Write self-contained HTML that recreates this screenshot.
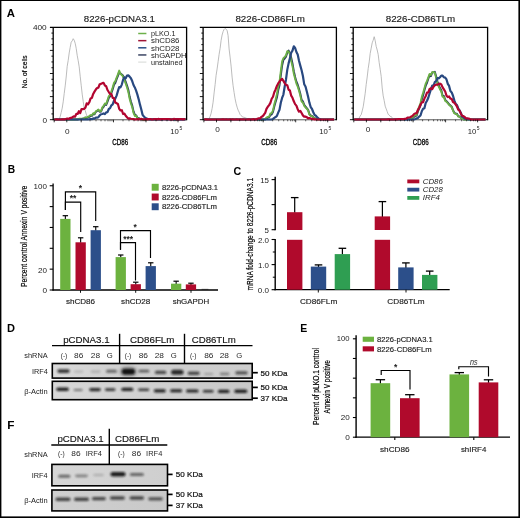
<!DOCTYPE html>
<html><head><meta charset="utf-8"><title>Figure</title><style>html,body{margin:0;padding:0;background:#fff}svg{display:block}</style></head><body>
<svg width="520" height="518" viewBox="0 0 520 518" font-family='"Liberation Sans", Arial, Helvetica, sans-serif'>
<defs><filter id="b1" x="-30%" y="-100%" width="160%" height="300%"><feGaussianBlur stdDeviation="1.3 0.85"/></filter><linearGradient id="gD1"><stop offset="0" stop-color="#dadada"/><stop offset="0.35" stop-color="#cfcfcf"/><stop offset="1" stop-color="#cdcdcd"/></linearGradient><linearGradient id="gD2"><stop offset="0" stop-color="#d8d8d8"/><stop offset="1" stop-color="#c8c8c8"/></linearGradient><linearGradient id="gF1"><stop offset="0" stop-color="#d6d6d6"/><stop offset="1" stop-color="#cfcfcf"/></linearGradient><linearGradient id="gF2"><stop offset="0" stop-color="#cfcfcf"/><stop offset="1" stop-color="#c9c9c9"/></linearGradient></defs>
<rect x="0.00" y="0.00" width="520.00" height="518.00" fill="#fff"/>
<rect x="0.00" y="0.00" width="1.40" height="518.00" fill="#000"/>
<rect x="0.00" y="0.00" width="520.00" height="1.00" fill="#000"/>
<rect x="518.40" y="0.00" width="1.60" height="518.00" fill="#000"/>
<rect x="0.00" y="516.40" width="520.00" height="1.60" fill="#000"/>
<text x="6.80" y="17.00" font-size="10.5" textLength="8.20" lengthAdjust="spacingAndGlyphs" font-weight="bold" fill="#000">A</text>
<line x1="53.20" y1="119.70" x2="186.60" y2="119.70" stroke="#000" stroke-width="1.0"/>
<path d="M54.20 119.50 L55.20 119.50 L56.20 119.50 L57.20 119.44 L58.20 119.50 L59.20 119.50 L60.20 116.52 L61.20 112.54 L62.20 108.21 L63.20 101.86 L64.20 93.66 L65.20 85.93 L66.20 77.00 L67.20 66.29 L68.20 60.41 L69.20 52.95 L70.20 47.34 L71.20 42.16 L72.20 40.92 L73.20 38.70 L74.20 40.24 L75.20 43.29 L76.20 48.33 L77.20 55.30 L78.20 60.69 L79.20 66.88 L80.20 76.24 L81.20 85.21 L82.20 94.10 L83.20 101.34 L84.20 108.26 L85.20 110.45 L86.20 113.94 L87.20 116.60 L88.20 116.95 L89.20 118.03 L90.20 118.88 L91.20 119.11 L92.20 119.34 L93.20 119.48 L94.20 119.36 L95.20 119.45 L96.20 119.50 L97.20 119.48 L98.20 119.50 L99.20 119.50 L100.20 119.50 L101.20 119.50 L102.20 119.50 L103.20 119.50 L104.20 119.50 L105.20 119.50 L106.20 119.50 L107.20 119.50 L108.20 119.50 L109.20 119.50 L110.20 119.50 L111.20 119.50 L112.20 119.50 L113.20 119.50 L114.20 119.50 L115.20 119.50 L116.20 119.50 L117.20 119.50 L118.20 119.50 L119.20 119.50 L120.20 119.50 L121.20 119.50 L122.20 119.50 L123.20 119.50 L124.20 119.50 L125.20 119.50 L126.20 119.50 L127.20 119.50 L128.20 119.48 L129.20 119.50 L130.20 119.50 L131.20 119.50 L132.20 119.49 L133.20 119.50 L134.20 119.50 L135.20 119.50 L136.20 119.50 L137.20 119.50 L138.20 119.50 L139.20 119.50 L140.20 119.50 L141.20 119.50 L142.20 119.50 L143.20 119.49 L144.20 119.50 L145.20 119.50 L146.20 119.50 L147.20 119.50 L148.20 119.50 L149.20 119.50 L150.20 119.50 L151.20 119.50 L152.20 119.50 L153.20 119.50 L154.20 119.50 L155.20 119.48 L156.20 119.48 L157.20 119.50 L158.20 119.49 L159.20 119.50 L160.20 119.50 L161.20 119.50 L162.20 119.50 L163.20 119.50 L164.20 119.50 L165.20 119.50 L166.20 119.50 L167.20 119.50 L168.20 119.50 L169.20 119.50 L170.20 119.50 L171.20 119.50 L172.20 119.50 L173.20 119.50 L174.20 119.50 L175.20 119.50 L176.20 119.50 L177.20 119.50 L178.20 119.50 L179.20 119.50 L180.20 119.50 L181.20 119.50 L182.20 119.50 L183.20 119.50 L184.20 119.50 L185.20 119.50" fill="none" stroke="#ababab" stroke-width="0.8" stroke-linejoin="round"/>
<path d="M54.20 119.50 L55.50 119.50 L56.80 119.50 L58.10 119.50 L59.40 119.50 L60.70 119.50 L62.00 119.50 L63.30 119.50 L64.60 119.50 L65.90 119.50 L67.20 119.50 L68.50 119.50 L69.80 119.50 L71.10 119.50 L72.40 119.50 L73.70 119.50 L75.00 119.50 L76.30 119.39 L77.60 119.50 L78.90 119.05 L80.20 118.94 L81.50 118.93 L82.80 118.87 L84.10 118.36 L85.40 117.70 L86.70 118.00 L88.00 117.10 L89.30 116.85 L90.60 115.85 L91.90 115.84 L93.20 113.83 L94.50 114.19 L95.80 111.87 L97.10 111.02 L98.40 110.05 L99.70 111.72 L101.00 111.59 L102.30 108.36 L103.60 106.79 L104.90 104.41 L106.20 104.93 L107.50 101.68 L108.80 97.87 L110.10 96.35 L111.40 92.94 L112.70 89.15 L114.00 84.68 L115.30 82.86 L116.60 79.13 L117.90 75.86 L119.20 72.08 L120.50 73.61 L121.80 74.53 L123.10 75.79 L124.40 79.00 L125.70 81.71 L127.00 85.46 L128.30 89.72 L129.60 96.59 L130.90 101.49 L132.20 105.57 L133.50 111.36 L134.80 114.61 L136.10 115.28 L137.40 117.81 L138.70 118.00 L140.00 119.30 L141.30 119.23 L142.60 119.50 L143.90 119.50 L145.20 119.50 L146.50 119.50 L147.80 119.34 L149.10 119.50 L150.40 119.37 L151.70 119.50 L153.00 119.48 L154.30 119.35 L155.60 119.50 L156.90 119.36 L158.20 119.44 L159.50 119.36 L160.80 119.50 L162.10 119.46 L163.40 119.34 L164.70 119.33 L166.00 119.42 L167.30 119.50 L168.60 119.32 L169.90 119.33 L171.20 119.50 L172.50 119.50 L173.80 119.38 L175.10 119.47 L176.40 119.38 L177.70 119.45 L179.00 119.50 L180.30 119.42 L181.60 119.41 L182.90 119.43 L184.20 119.46 L185.50 119.50" fill="none" stroke="#2c3c5e" stroke-width="2.0" stroke-linejoin="round"/>
<path d="M54.20 119.50 L55.50 119.50 L56.80 119.50 L58.10 119.50 L59.40 119.49 L60.70 119.50 L62.00 119.50 L63.30 119.50 L64.60 119.50 L65.90 119.44 L67.20 119.50 L68.50 119.50 L69.80 119.41 L71.10 119.50 L72.40 119.50 L73.70 119.50 L75.00 119.21 L76.30 119.09 L77.60 119.32 L78.90 118.75 L80.20 118.66 L81.50 118.64 L82.80 118.60 L84.10 118.06 L85.40 117.34 L86.70 117.71 L88.00 116.74 L89.30 116.07 L90.60 115.10 L91.90 115.23 L93.20 113.14 L94.50 113.73 L95.80 111.33 L97.10 110.52 L98.40 109.55 L99.70 111.22 L101.00 111.09 L102.30 107.41 L103.60 105.84 L104.90 103.46 L106.20 103.98 L107.50 99.98 L108.80 96.17 L110.10 94.65 L111.40 91.24 L112.70 87.35 L114.00 82.88 L115.30 81.06 L116.60 77.61 L117.90 74.34 L119.20 70.56 L120.50 73.94 L121.80 75.01 L123.10 76.59 L124.40 80.47 L125.70 83.61 L127.00 87.50 L128.30 91.92 L129.60 98.79 L130.90 103.55 L132.20 107.17 L133.50 112.96 L134.80 115.97 L136.10 115.70 L137.40 118.11 L138.70 118.43 L140.00 119.17 L141.30 119.08 L142.60 119.46 L143.90 119.50 L145.20 119.37 L146.50 119.50 L147.80 119.11 L149.10 119.45 L150.40 119.14 L151.70 119.33 L153.00 119.26 L154.30 119.12 L155.60 119.49 L156.90 119.13 L158.20 119.22 L159.50 119.12 L160.80 119.44 L162.10 119.24 L163.40 119.10 L164.70 119.09 L166.00 119.20 L167.30 119.36 L168.60 119.08 L169.90 119.09 L171.20 119.45 L172.50 119.37 L173.80 119.15 L175.10 119.25 L176.40 119.15 L177.70 119.23 L179.00 119.29 L180.30 119.20 L181.60 119.19 L182.90 119.20 L184.20 119.24 L185.50 119.38" fill="none" stroke="#6cb046" stroke-width="1.85" stroke-linejoin="round"/>
<path d="M54.20 119.50 L55.50 119.50 L56.80 119.38 L58.10 119.50 L59.40 119.46 L60.70 119.48 L62.00 119.50 L63.30 119.50 L64.60 119.50 L65.90 119.50 L67.20 119.50 L68.50 119.50 L69.80 119.48 L71.10 119.40 L72.40 119.44 L73.70 119.50 L75.00 119.50 L76.30 119.50 L77.60 119.50 L78.90 119.50 L80.20 119.50 L81.50 119.40 L82.80 119.38 L84.10 119.50 L85.40 119.50 L86.70 119.50 L88.00 119.31 L89.30 119.25 L90.60 119.11 L91.90 119.18 L93.20 118.43 L94.50 118.57 L95.80 117.68 L97.10 117.71 L98.40 117.22 L99.70 115.41 L101.00 114.29 L102.30 113.95 L103.60 113.43 L104.90 114.15 L106.20 112.35 L107.50 112.13 L108.80 108.98 L110.10 108.11 L111.40 105.34 L112.70 104.30 L114.00 100.60 L115.30 98.54 L116.60 95.58 L117.90 91.17 L119.20 87.04 L120.50 87.39 L121.80 84.59 L123.10 79.74 L124.40 77.31 L125.70 78.36 L127.00 75.58 L128.30 75.36 L129.60 76.63 L130.90 78.21 L132.20 81.07 L133.50 85.02 L134.80 87.41 L136.10 90.57 L137.40 94.63 L138.70 99.35 L140.00 104.65 L141.30 109.44 L142.60 114.88 L143.90 116.53 L145.20 117.75 L146.50 118.37 L147.80 119.04 L149.10 119.29 L150.40 119.50 L151.70 119.43 L153.00 119.46 L154.30 119.28 L155.60 119.36 L156.90 119.48 L158.20 119.50 L159.50 119.37 L160.80 119.25 L162.10 119.46 L163.40 119.14 L164.70 119.26 L166.00 119.09 L167.30 119.38 L168.60 119.22 L169.90 119.29 L171.20 119.50 L172.50 119.43 L173.80 119.10 L175.10 119.32 L176.40 119.08 L177.70 119.50 L179.00 119.35 L180.30 119.50 L181.60 119.22 L182.90 119.50 L184.20 119.15 L185.50 119.50" fill="none" stroke="#284880" stroke-width="2.2" stroke-linejoin="round"/>
<path d="M54.20 119.50 L55.50 119.50 L56.80 119.38 L58.10 119.50 L59.40 119.50 L60.70 119.50 L62.00 119.37 L63.30 119.30 L64.60 119.45 L65.90 119.01 L67.20 118.54 L68.50 119.05 L69.80 118.02 L71.10 117.91 L72.40 117.26 L73.70 116.36 L75.00 116.74 L76.30 113.92 L77.60 113.96 L78.90 111.25 L80.20 113.06 L81.50 109.09 L82.80 109.04 L84.10 108.83 L85.40 107.70 L86.70 103.40 L88.00 104.32 L89.30 102.28 L90.60 98.41 L91.90 97.83 L93.20 93.95 L94.50 91.62 L95.80 89.57 L97.10 87.99 L98.40 87.66 L99.70 84.25 L101.00 83.88 L102.30 83.19 L103.60 82.87 L104.90 85.59 L106.20 86.28 L107.50 90.00 L108.80 92.03 L110.10 93.90 L111.40 94.16 L112.70 97.89 L114.00 98.14 L115.30 102.57 L116.60 103.23 L117.90 103.95 L119.20 108.82 L120.50 110.49 L121.80 110.20 L123.10 114.02 L124.40 113.66 L125.70 115.74 L127.00 117.21 L128.30 118.63 L129.60 118.35 L130.90 118.76 L132.20 119.00 L133.50 119.15 L134.80 119.40 L136.10 119.36 L137.40 118.98 L138.70 119.36 L140.00 119.03 L141.30 118.93 L142.60 119.21 L143.90 119.47 L145.20 119.47 L146.50 119.18 L147.80 119.40 L149.10 119.03 L150.40 119.01 L151.70 119.50 L153.00 119.32 L154.30 119.02 L155.60 119.12 L156.90 119.39 L158.20 118.95 L159.50 119.03 L160.80 119.41 L162.10 119.06 L163.40 119.17 L164.70 119.18 L166.00 119.20 L167.30 119.10 L168.60 119.07 L169.90 119.40 L171.20 119.38 L172.50 119.49 L173.80 118.94 L175.10 119.01 L176.40 119.44 L177.70 119.10 L179.00 119.40 L180.30 119.10 L181.60 119.15 L182.90 119.32 L184.20 119.17 L185.50 119.23" fill="none" stroke="#b20530" stroke-width="2.2" stroke-linejoin="round"/>
<path d="M53.20 120.30 V27.30 M49.90 27.30 H186.60 M186.60 26.70 V120.30" fill="none" stroke="#000" stroke-width="1.3"/>
<line x1="51.40" y1="33.08" x2="53.20" y2="33.08" stroke="#000" stroke-width="0.9"/>
<line x1="51.40" y1="38.85" x2="53.20" y2="38.85" stroke="#000" stroke-width="0.9"/>
<line x1="51.40" y1="44.62" x2="53.20" y2="44.62" stroke="#000" stroke-width="0.9"/>
<line x1="49.90" y1="50.40" x2="53.20" y2="50.40" stroke="#000" stroke-width="0.9"/>
<line x1="51.40" y1="56.17" x2="53.20" y2="56.17" stroke="#000" stroke-width="0.9"/>
<line x1="51.40" y1="61.95" x2="53.20" y2="61.95" stroke="#000" stroke-width="0.9"/>
<line x1="51.40" y1="67.73" x2="53.20" y2="67.73" stroke="#000" stroke-width="0.9"/>
<line x1="49.90" y1="73.50" x2="53.20" y2="73.50" stroke="#000" stroke-width="0.9"/>
<line x1="51.40" y1="79.28" x2="53.20" y2="79.28" stroke="#000" stroke-width="0.9"/>
<line x1="51.40" y1="85.05" x2="53.20" y2="85.05" stroke="#000" stroke-width="0.9"/>
<line x1="51.40" y1="90.83" x2="53.20" y2="90.83" stroke="#000" stroke-width="0.9"/>
<line x1="49.90" y1="96.60" x2="53.20" y2="96.60" stroke="#000" stroke-width="0.9"/>
<line x1="51.40" y1="102.38" x2="53.20" y2="102.38" stroke="#000" stroke-width="0.9"/>
<line x1="51.40" y1="108.15" x2="53.20" y2="108.15" stroke="#000" stroke-width="0.9"/>
<line x1="51.40" y1="113.92" x2="53.20" y2="113.92" stroke="#000" stroke-width="0.9"/>
<line x1="49.90" y1="119.70" x2="53.20" y2="119.70" stroke="#000" stroke-width="0.9"/>
<line x1="54.20" y1="119.70" x2="54.20" y2="122.30" stroke="#000" stroke-width="0.8"/>
<line x1="66.80" y1="119.70" x2="66.80" y2="122.30" stroke="#000" stroke-width="0.8"/>
<line x1="81.20" y1="119.70" x2="81.20" y2="122.30" stroke="#000" stroke-width="0.8"/>
<line x1="113.50" y1="119.70" x2="113.50" y2="122.30" stroke="#000" stroke-width="0.8"/>
<line x1="146.00" y1="119.70" x2="146.00" y2="122.30" stroke="#000" stroke-width="0.8"/>
<line x1="178.00" y1="119.70" x2="178.00" y2="122.30" stroke="#000" stroke-width="0.8"/>
<line x1="90.00" y1="119.70" x2="90.00" y2="121.30" stroke="#000" stroke-width="0.6"/>
<line x1="96.00" y1="119.70" x2="96.00" y2="121.30" stroke="#000" stroke-width="0.6"/>
<line x1="101.00" y1="119.70" x2="101.00" y2="121.30" stroke="#000" stroke-width="0.6"/>
<line x1="105.00" y1="119.70" x2="105.00" y2="121.30" stroke="#000" stroke-width="0.6"/>
<line x1="108.00" y1="119.70" x2="108.00" y2="121.30" stroke="#000" stroke-width="0.6"/>
<line x1="110.00" y1="119.70" x2="110.00" y2="121.30" stroke="#000" stroke-width="0.6"/>
<line x1="112.00" y1="119.70" x2="112.00" y2="121.30" stroke="#000" stroke-width="0.6"/>
<line x1="123.00" y1="119.70" x2="123.00" y2="121.30" stroke="#000" stroke-width="0.6"/>
<line x1="129.00" y1="119.70" x2="129.00" y2="121.30" stroke="#000" stroke-width="0.6"/>
<line x1="134.00" y1="119.70" x2="134.00" y2="121.30" stroke="#000" stroke-width="0.6"/>
<line x1="138.00" y1="119.70" x2="138.00" y2="121.30" stroke="#000" stroke-width="0.6"/>
<line x1="141.00" y1="119.70" x2="141.00" y2="121.30" stroke="#000" stroke-width="0.6"/>
<line x1="143.00" y1="119.70" x2="143.00" y2="121.30" stroke="#000" stroke-width="0.6"/>
<line x1="145.00" y1="119.70" x2="145.00" y2="121.30" stroke="#000" stroke-width="0.6"/>
<line x1="156.00" y1="119.70" x2="156.00" y2="121.30" stroke="#000" stroke-width="0.6"/>
<line x1="162.00" y1="119.70" x2="162.00" y2="121.30" stroke="#000" stroke-width="0.6"/>
<line x1="167.00" y1="119.70" x2="167.00" y2="121.30" stroke="#000" stroke-width="0.6"/>
<line x1="171.00" y1="119.70" x2="171.00" y2="121.30" stroke="#000" stroke-width="0.6"/>
<line x1="174.00" y1="119.70" x2="174.00" y2="121.30" stroke="#000" stroke-width="0.6"/>
<line x1="176.00" y1="119.70" x2="176.00" y2="121.30" stroke="#000" stroke-width="0.6"/>
<line x1="203.10" y1="119.70" x2="336.40" y2="119.70" stroke="#000" stroke-width="1.0"/>
<path d="M204.10 119.50 L205.10 119.50 L206.10 119.50 L207.10 119.47 L208.10 119.43 L209.10 118.66 L210.10 116.44 L211.10 113.34 L212.10 108.56 L213.10 102.19 L214.10 92.94 L215.10 84.69 L216.10 75.31 L217.10 68.98 L218.10 61.78 L219.10 54.36 L220.10 48.47 L221.10 40.43 L222.10 35.01 L223.10 31.55 L224.10 29.42 L225.10 28.37 L226.10 29.30 L227.10 30.29 L228.10 35.60 L229.10 48.92 L230.10 57.11 L231.10 66.09 L232.10 77.06 L233.10 85.78 L234.10 92.57 L235.10 98.79 L236.10 103.51 L237.10 107.13 L238.10 110.10 L239.10 112.09 L240.10 114.51 L241.10 115.62 L242.10 116.57 L243.10 117.14 L244.10 117.27 L245.10 117.67 L246.10 118.16 L247.10 118.52 L248.10 119.23 L249.10 119.22 L250.10 119.41 L251.10 119.32 L252.10 119.50 L253.10 119.50 L254.10 119.37 L255.10 119.48 L256.10 119.50 L257.10 119.50 L258.10 119.50 L259.10 119.50 L260.10 119.49 L261.10 119.50 L262.10 119.50 L263.10 119.50 L264.10 119.50 L265.10 119.50 L266.10 119.50 L267.10 119.50 L268.10 119.50 L269.10 119.50 L270.10 119.50 L271.10 119.49 L272.10 119.50 L273.10 119.50 L274.10 119.50 L275.10 119.50 L276.10 119.50 L277.10 119.50 L278.10 119.50 L279.10 119.50 L280.10 119.50 L281.10 119.50 L282.10 119.50 L283.10 119.50 L284.10 119.50 L285.10 119.50 L286.10 119.50 L287.10 119.50 L288.10 119.50 L289.10 119.50 L290.10 119.50 L291.10 119.50 L292.10 119.50 L293.10 119.50 L294.10 119.50 L295.10 119.50 L296.10 119.50 L297.10 119.50 L298.10 119.50 L299.10 119.49 L300.10 119.50 L301.10 119.50 L302.10 119.50 L303.10 119.50 L304.10 119.50 L305.10 119.50 L306.10 119.50 L307.10 119.50 L308.10 119.50 L309.10 119.50 L310.10 119.50 L311.10 119.50 L312.10 119.50 L313.10 119.50 L314.10 119.50 L315.10 119.50 L316.10 119.50 L317.10 119.50 L318.10 119.50 L319.10 119.50 L320.10 119.50 L321.10 119.50 L322.10 119.50 L323.10 119.50 L324.10 119.48 L325.10 119.50 L326.10 119.50 L327.10 119.50 L328.10 119.50 L329.10 119.50 L330.10 119.50 L331.10 119.50 L332.10 119.50 L333.10 119.50 L334.10 119.49 L335.10 119.50" fill="none" stroke="#ababab" stroke-width="0.8" stroke-linejoin="round"/>
<path d="M204.10 119.50 L205.40 119.50 L206.70 119.50 L208.00 119.50 L209.30 119.50 L210.60 119.50 L211.90 119.50 L213.20 119.50 L214.50 119.50 L215.80 119.50 L217.10 119.50 L218.40 119.50 L219.70 119.50 L221.00 119.50 L222.30 119.50 L223.60 119.50 L224.90 119.50 L226.20 119.50 L227.50 119.50 L228.80 119.50 L230.10 119.50 L231.40 119.50 L232.70 119.50 L234.00 119.50 L235.30 119.50 L236.60 119.50 L237.90 119.50 L239.20 119.50 L240.50 119.50 L241.80 119.50 L243.10 119.50 L244.40 119.50 L245.70 119.50 L247.00 119.50 L248.30 119.50 L249.60 119.50 L250.90 119.50 L252.20 119.50 L253.50 119.50 L254.80 119.50 L256.10 119.50 L257.40 119.50 L258.70 119.50 L260.00 119.50 L261.30 119.50 L262.60 119.50 L263.90 119.50 L265.20 119.50 L266.50 118.33 L267.80 117.62 L269.10 117.21 L270.40 114.98 L271.70 114.40 L273.00 111.74 L274.30 106.54 L275.60 101.84 L276.90 97.58 L278.20 90.27 L279.50 85.19 L280.80 75.29 L282.10 65.40 L283.40 59.86 L284.70 58.52 L286.00 56.65 L287.30 52.49 L288.60 50.68 L289.90 53.31 L291.20 57.73 L292.50 63.74 L293.80 71.15 L295.10 76.90 L296.40 81.68 L297.70 84.72 L299.00 89.02 L300.30 93.78 L301.60 99.91 L302.90 101.46 L304.20 104.91 L305.50 106.52 L306.80 108.21 L308.10 109.82 L309.40 114.04 L310.70 115.46 L312.00 115.85 L313.30 117.24 L314.60 118.03 L315.90 119.02 L317.20 119.46 L318.50 119.43 L319.80 119.50 L321.10 119.50 L322.40 119.50 L323.70 119.50 L325.00 119.50 L326.30 119.50 L327.60 119.50 L328.90 119.50 L330.20 119.50 L331.50 119.50 L332.80 119.50 L334.10 119.50" fill="none" stroke="#2c3c5e" stroke-width="2.0" stroke-linejoin="round"/>
<path d="M204.10 119.50 L205.40 119.50 L206.70 119.50 L208.00 119.50 L209.30 119.50 L210.60 119.50 L211.90 119.50 L213.20 119.50 L214.50 119.50 L215.80 119.50 L217.10 119.50 L218.40 119.50 L219.70 119.50 L221.00 119.50 L222.30 119.50 L223.60 119.50 L224.90 119.50 L226.20 119.50 L227.50 119.50 L228.80 119.50 L230.10 119.50 L231.40 119.50 L232.70 119.50 L234.00 119.50 L235.30 119.50 L236.60 119.50 L237.90 119.50 L239.20 119.50 L240.50 119.50 L241.80 119.50 L243.10 119.50 L244.40 119.50 L245.70 119.50 L247.00 119.50 L248.30 119.50 L249.60 119.50 L250.90 119.50 L252.20 119.50 L253.50 119.50 L254.80 119.50 L256.10 119.50 L257.40 119.50 L258.70 119.50 L260.00 119.50 L261.30 119.50 L262.60 119.50 L263.90 119.43 L265.20 119.15 L266.50 117.56 L267.80 116.96 L269.10 116.64 L270.40 113.40 L271.70 113.06 L273.00 110.34 L274.30 104.24 L275.60 99.54 L276.90 94.15 L278.20 86.77 L279.50 81.69 L280.80 71.09 L282.10 61.30 L283.40 58.06 L284.70 56.84 L286.00 55.31 L287.30 51.15 L288.60 51.60 L289.90 54.23 L291.20 61.13 L292.50 66.37 L293.80 73.75 L295.10 78.80 L296.40 83.58 L297.70 86.61 L299.00 90.74 L300.30 95.50 L301.60 101.63 L302.90 102.46 L304.20 105.91 L305.50 107.52 L306.80 108.81 L308.10 110.42 L309.40 114.56 L310.70 115.98 L312.00 116.06 L313.30 117.43 L314.60 118.22 L315.90 119.12 L317.20 119.41 L318.50 119.37 L319.80 119.50 L321.10 119.50 L322.40 119.50 L323.70 119.50 L325.00 119.50 L326.30 119.50 L327.60 119.50 L328.90 119.50 L330.20 119.50 L331.50 119.50 L332.80 119.50 L334.10 119.50" fill="none" stroke="#6cb046" stroke-width="1.85" stroke-linejoin="round"/>
<path d="M204.10 119.50 L205.40 119.50 L206.70 119.50 L208.00 119.50 L209.30 119.50 L210.60 119.50 L211.90 119.50 L213.20 119.50 L214.50 119.50 L215.80 119.50 L217.10 119.50 L218.40 119.50 L219.70 119.50 L221.00 119.50 L222.30 119.50 L223.60 119.50 L224.90 119.50 L226.20 119.50 L227.50 119.50 L228.80 119.50 L230.10 119.50 L231.40 119.50 L232.70 119.50 L234.00 119.50 L235.30 119.50 L236.60 119.50 L237.90 119.50 L239.20 119.50 L240.50 119.50 L241.80 119.50 L243.10 119.50 L244.40 119.50 L245.70 119.50 L247.00 119.50 L248.30 119.50 L249.60 119.50 L250.90 119.50 L252.20 119.50 L253.50 119.50 L254.80 119.50 L256.10 119.50 L257.40 119.50 L258.70 119.50 L260.00 119.50 L261.30 119.50 L262.60 119.50 L263.90 119.50 L265.20 119.50 L266.50 119.50 L267.80 119.50 L269.10 119.50 L270.40 119.50 L271.70 119.50 L273.00 118.92 L274.30 117.86 L275.60 117.03 L276.90 115.97 L278.20 112.61 L279.50 109.80 L280.80 102.80 L282.10 97.93 L283.40 94.54 L284.70 86.52 L286.00 79.48 L287.30 69.64 L288.60 63.39 L289.90 58.19 L291.20 52.80 L292.50 50.59 L293.80 46.26 L295.10 47.84 L296.40 51.96 L297.70 54.55 L299.00 60.83 L300.30 65.63 L301.60 70.19 L302.90 75.99 L304.20 84.19 L305.50 86.46 L306.80 91.54 L308.10 96.70 L309.40 102.66 L310.70 107.02 L312.00 108.98 L313.30 112.26 L314.60 115.01 L315.90 115.75 L317.20 117.35 L318.50 118.42 L319.80 119.17 L321.10 119.43 L322.40 119.50 L323.70 119.50 L325.00 119.50 L326.30 119.50 L327.60 119.50 L328.90 119.50 L330.20 119.50 L331.50 119.50 L332.80 119.50 L334.10 119.50" fill="none" stroke="#284880" stroke-width="2.2" stroke-linejoin="round"/>
<path d="M204.10 119.50 L205.40 119.47 L206.70 119.44 L208.00 119.50 L209.30 119.50 L210.60 119.50 L211.90 119.50 L213.20 119.50 L214.50 119.50 L215.80 119.50 L217.10 119.50 L218.40 119.50 L219.70 119.50 L221.00 119.50 L222.30 119.44 L223.60 119.44 L224.90 119.50 L226.20 119.44 L227.50 119.50 L228.80 119.50 L230.10 119.40 L231.40 119.50 L232.70 119.38 L234.00 119.50 L235.30 119.50 L236.60 119.47 L237.90 119.50 L239.20 119.50 L240.50 119.42 L241.80 119.50 L243.10 119.42 L244.40 119.50 L245.70 119.50 L247.00 119.50 L248.30 119.39 L249.60 119.44 L250.90 119.50 L252.20 119.46 L253.50 119.15 L254.80 119.50 L256.10 119.40 L257.40 118.79 L258.70 118.38 L260.00 118.53 L261.30 117.01 L262.60 116.27 L263.90 114.71 L265.20 112.80 L266.50 108.91 L267.80 106.69 L269.10 105.13 L270.40 102.93 L271.70 98.78 L273.00 96.74 L274.30 92.18 L275.60 89.44 L276.90 85.91 L278.20 83.47 L279.50 81.55 L280.80 80.11 L282.10 78.84 L283.40 80.91 L284.70 83.12 L286.00 84.86 L287.30 85.22 L288.60 89.70 L289.90 90.48 L291.20 95.67 L292.50 97.77 L293.80 101.34 L295.10 104.11 L296.40 105.63 L297.70 109.18 L299.00 111.64 L300.30 110.84 L301.60 113.04 L302.90 115.34 L304.20 116.61 L305.50 116.63 L306.80 117.20 L308.10 118.33 L309.40 118.01 L310.70 118.49 L312.00 119.05 L313.30 118.91 L314.60 119.46 L315.90 119.27 L317.20 119.50 L318.50 119.50 L319.80 119.50 L321.10 119.50 L322.40 119.50 L323.70 119.50 L325.00 119.50 L326.30 119.50 L327.60 119.50 L328.90 119.50 L330.20 119.50 L331.50 119.50 L332.80 119.50 L334.10 119.50" fill="none" stroke="#b20530" stroke-width="2.2" stroke-linejoin="round"/>
<path d="M203.10 120.30 V27.30 M199.80 27.30 H336.40 M336.40 26.70 V120.30" fill="none" stroke="#000" stroke-width="1.3"/>
<line x1="201.30" y1="33.08" x2="203.10" y2="33.08" stroke="#000" stroke-width="0.9"/>
<line x1="201.30" y1="38.85" x2="203.10" y2="38.85" stroke="#000" stroke-width="0.9"/>
<line x1="201.30" y1="44.62" x2="203.10" y2="44.62" stroke="#000" stroke-width="0.9"/>
<line x1="199.80" y1="50.40" x2="203.10" y2="50.40" stroke="#000" stroke-width="0.9"/>
<line x1="201.30" y1="56.17" x2="203.10" y2="56.17" stroke="#000" stroke-width="0.9"/>
<line x1="201.30" y1="61.95" x2="203.10" y2="61.95" stroke="#000" stroke-width="0.9"/>
<line x1="201.30" y1="67.73" x2="203.10" y2="67.73" stroke="#000" stroke-width="0.9"/>
<line x1="199.80" y1="73.50" x2="203.10" y2="73.50" stroke="#000" stroke-width="0.9"/>
<line x1="201.30" y1="79.28" x2="203.10" y2="79.28" stroke="#000" stroke-width="0.9"/>
<line x1="201.30" y1="85.05" x2="203.10" y2="85.05" stroke="#000" stroke-width="0.9"/>
<line x1="201.30" y1="90.83" x2="203.10" y2="90.83" stroke="#000" stroke-width="0.9"/>
<line x1="199.80" y1="96.60" x2="203.10" y2="96.60" stroke="#000" stroke-width="0.9"/>
<line x1="201.30" y1="102.38" x2="203.10" y2="102.38" stroke="#000" stroke-width="0.9"/>
<line x1="201.30" y1="108.15" x2="203.10" y2="108.15" stroke="#000" stroke-width="0.9"/>
<line x1="201.30" y1="113.92" x2="203.10" y2="113.92" stroke="#000" stroke-width="0.9"/>
<line x1="199.80" y1="119.70" x2="203.10" y2="119.70" stroke="#000" stroke-width="0.9"/>
<line x1="203.90" y1="119.70" x2="203.90" y2="122.30" stroke="#000" stroke-width="0.8"/>
<line x1="216.50" y1="119.70" x2="216.50" y2="122.30" stroke="#000" stroke-width="0.8"/>
<line x1="230.90" y1="119.70" x2="230.90" y2="122.30" stroke="#000" stroke-width="0.8"/>
<line x1="263.20" y1="119.70" x2="263.20" y2="122.30" stroke="#000" stroke-width="0.8"/>
<line x1="295.70" y1="119.70" x2="295.70" y2="122.30" stroke="#000" stroke-width="0.8"/>
<line x1="327.70" y1="119.70" x2="327.70" y2="122.30" stroke="#000" stroke-width="0.8"/>
<line x1="239.70" y1="119.70" x2="239.70" y2="121.30" stroke="#000" stroke-width="0.6"/>
<line x1="245.70" y1="119.70" x2="245.70" y2="121.30" stroke="#000" stroke-width="0.6"/>
<line x1="250.70" y1="119.70" x2="250.70" y2="121.30" stroke="#000" stroke-width="0.6"/>
<line x1="254.70" y1="119.70" x2="254.70" y2="121.30" stroke="#000" stroke-width="0.6"/>
<line x1="257.70" y1="119.70" x2="257.70" y2="121.30" stroke="#000" stroke-width="0.6"/>
<line x1="259.70" y1="119.70" x2="259.70" y2="121.30" stroke="#000" stroke-width="0.6"/>
<line x1="261.70" y1="119.70" x2="261.70" y2="121.30" stroke="#000" stroke-width="0.6"/>
<line x1="272.70" y1="119.70" x2="272.70" y2="121.30" stroke="#000" stroke-width="0.6"/>
<line x1="278.70" y1="119.70" x2="278.70" y2="121.30" stroke="#000" stroke-width="0.6"/>
<line x1="283.70" y1="119.70" x2="283.70" y2="121.30" stroke="#000" stroke-width="0.6"/>
<line x1="287.70" y1="119.70" x2="287.70" y2="121.30" stroke="#000" stroke-width="0.6"/>
<line x1="290.70" y1="119.70" x2="290.70" y2="121.30" stroke="#000" stroke-width="0.6"/>
<line x1="292.70" y1="119.70" x2="292.70" y2="121.30" stroke="#000" stroke-width="0.6"/>
<line x1="294.70" y1="119.70" x2="294.70" y2="121.30" stroke="#000" stroke-width="0.6"/>
<line x1="305.70" y1="119.70" x2="305.70" y2="121.30" stroke="#000" stroke-width="0.6"/>
<line x1="311.70" y1="119.70" x2="311.70" y2="121.30" stroke="#000" stroke-width="0.6"/>
<line x1="316.70" y1="119.70" x2="316.70" y2="121.30" stroke="#000" stroke-width="0.6"/>
<line x1="320.70" y1="119.70" x2="320.70" y2="121.30" stroke="#000" stroke-width="0.6"/>
<line x1="323.70" y1="119.70" x2="323.70" y2="121.30" stroke="#000" stroke-width="0.6"/>
<line x1="325.70" y1="119.70" x2="325.70" y2="121.30" stroke="#000" stroke-width="0.6"/>
<line x1="353.20" y1="119.70" x2="487.60" y2="119.70" stroke="#000" stroke-width="1.0"/>
<path d="M354.20 119.50 L355.20 119.50 L356.20 119.50 L357.20 119.37 L358.20 119.28 L359.20 118.00 L360.20 115.91 L361.20 114.66 L362.20 110.98 L363.20 106.82 L364.20 100.16 L365.20 93.35 L366.20 84.49 L367.20 77.02 L368.20 68.52 L369.20 61.93 L370.20 53.40 L371.20 48.19 L372.20 42.85 L373.20 40.19 L374.20 36.70 L375.20 40.69 L376.20 46.48 L377.20 50.00 L378.20 54.53 L379.20 62.73 L380.20 69.29 L381.20 76.42 L382.20 87.96 L383.20 95.88 L384.20 100.61 L385.20 106.17 L386.20 108.89 L387.20 111.55 L388.20 114.39 L389.20 114.98 L390.20 116.38 L391.20 116.61 L392.20 117.57 L393.20 118.73 L394.20 118.68 L395.20 118.79 L396.20 118.96 L397.20 119.01 L398.20 119.08 L399.20 119.07 L400.20 119.39 L401.20 119.50 L402.20 119.50 L403.20 119.50 L404.20 119.50 L405.20 119.50 L406.20 119.50 L407.20 119.50 L408.20 119.50 L409.20 119.50 L410.20 119.50 L411.20 119.50 L412.20 119.50 L413.20 119.50 L414.20 119.48 L415.20 119.50 L416.20 119.50 L417.20 119.50 L418.20 119.50 L419.20 119.50 L420.20 119.50 L421.20 119.50 L422.20 119.50 L423.20 119.50 L424.20 119.50 L425.20 119.50 L426.20 119.48 L427.20 119.50 L428.20 119.50 L429.20 119.50 L430.20 119.49 L431.20 119.50 L432.20 119.50 L433.20 119.50 L434.20 119.50 L435.20 119.50 L436.20 119.50 L437.20 119.50 L438.20 119.50 L439.20 119.50 L440.20 119.50 L441.20 119.50 L442.20 119.50 L443.20 119.50 L444.20 119.48 L445.20 119.50 L446.20 119.50 L447.20 119.50 L448.20 119.50 L449.20 119.48 L450.20 119.48 L451.20 119.50 L452.20 119.50 L453.20 119.50 L454.20 119.50 L455.20 119.48 L456.20 119.50 L457.20 119.50 L458.20 119.50 L459.20 119.50 L460.20 119.50 L461.20 119.50 L462.20 119.50 L463.20 119.50 L464.20 119.50 L465.20 119.50 L466.20 119.50 L467.20 119.50 L468.20 119.50 L469.20 119.50 L470.20 119.50 L471.20 119.50 L472.20 119.50 L473.20 119.50 L474.20 119.50 L475.20 119.50 L476.20 119.50 L477.20 119.50 L478.20 119.50 L479.20 119.50 L480.20 119.50 L481.20 119.50 L482.20 119.50 L483.20 119.50 L484.20 119.50 L485.20 119.50 L486.20 119.50" fill="none" stroke="#ababab" stroke-width="0.8" stroke-linejoin="round"/>
<path d="M354.20 119.50 L355.50 119.50 L356.80 119.50 L358.10 119.50 L359.40 119.50 L360.70 119.50 L362.00 119.50 L363.30 119.50 L364.60 119.50 L365.90 119.50 L367.20 119.50 L368.50 119.50 L369.80 119.50 L371.10 119.50 L372.40 119.50 L373.70 119.50 L375.00 119.50 L376.30 119.50 L377.60 119.50 L378.90 119.50 L380.20 119.50 L381.50 119.50 L382.80 119.50 L384.10 119.50 L385.40 119.50 L386.70 119.50 L388.00 119.50 L389.30 119.50 L390.60 119.50 L391.90 119.50 L393.20 119.50 L394.50 119.50 L395.80 119.50 L397.10 119.50 L398.40 119.50 L399.70 119.50 L401.00 119.50 L402.30 119.50 L403.60 119.50 L404.90 119.50 L406.20 119.49 L407.50 119.47 L408.80 118.94 L410.10 119.30 L411.40 118.78 L412.70 118.16 L414.00 116.78 L415.30 116.05 L416.60 115.59 L417.90 111.35 L419.20 108.33 L420.50 105.59 L421.80 99.42 L423.10 95.24 L424.40 90.36 L425.70 85.65 L427.00 82.73 L428.30 78.77 L429.60 75.00 L430.90 76.14 L432.20 72.43 L433.50 72.33 L434.80 71.87 L436.10 76.24 L437.40 81.37 L438.70 85.25 L440.00 88.12 L441.30 90.34 L442.60 95.85 L443.90 95.99 L445.20 99.87 L446.50 101.24 L447.80 102.73 L449.10 104.39 L450.40 105.45 L451.70 106.66 L453.00 110.08 L454.30 112.70 L455.60 113.64 L456.90 113.69 L458.20 116.18 L459.50 116.39 L460.80 117.74 L462.10 118.80 L463.40 119.42 L464.70 119.50 L466.00 119.50 L467.30 119.50 L468.60 119.50 L469.90 119.50 L471.20 119.50 L472.50 119.50 L473.80 119.50 L475.10 119.50 L476.40 119.50 L477.70 119.50 L479.00 119.50 L480.30 119.50 L481.60 119.50 L482.90 119.50 L484.20 119.50 L485.50 119.50" fill="none" stroke="#2c3c5e" stroke-width="2.0" stroke-linejoin="round"/>
<path d="M354.20 119.50 L355.50 119.50 L356.80 119.50 L358.10 119.50 L359.40 119.50 L360.70 119.50 L362.00 119.50 L363.30 119.50 L364.60 119.50 L365.90 119.50 L367.20 119.50 L368.50 119.50 L369.80 119.50 L371.10 119.50 L372.40 119.50 L373.70 119.50 L375.00 119.50 L376.30 119.50 L377.60 119.50 L378.90 119.50 L380.20 119.50 L381.50 119.50 L382.80 119.50 L384.10 119.50 L385.40 119.50 L386.70 119.50 L388.00 119.50 L389.30 119.50 L390.60 119.50 L391.90 119.50 L393.20 119.50 L394.50 119.50 L395.80 119.50 L397.10 119.50 L398.40 119.50 L399.70 119.50 L401.00 119.50 L402.30 119.50 L403.60 119.50 L404.90 119.45 L406.20 119.13 L407.50 119.17 L408.80 118.58 L410.10 119.05 L411.40 118.47 L412.70 117.40 L414.00 115.99 L415.30 115.34 L416.60 114.82 L417.90 109.65 L419.20 106.63 L420.50 102.99 L421.80 96.82 L423.10 92.67 L424.40 88.16 L425.70 83.58 L427.00 80.93 L428.30 77.35 L429.60 73.90 L430.90 75.04 L432.20 72.07 L433.50 71.96 L434.80 72.85 L436.10 77.89 L437.40 83.92 L438.70 86.55 L440.00 89.42 L441.30 91.54 L442.60 96.85 L443.90 96.99 L445.20 100.87 L446.50 101.76 L447.80 103.25 L449.10 104.91 L450.40 106.05 L451.70 107.26 L453.00 110.68 L454.30 113.28 L455.60 114.02 L456.90 114.14 L458.20 116.54 L459.50 116.66 L460.80 117.85 L462.10 118.89 L463.40 119.50 L464.70 119.50 L466.00 119.50 L467.30 119.50 L468.60 119.50 L469.90 119.50 L471.20 119.50 L472.50 119.50 L473.80 119.50 L475.10 119.50 L476.40 119.50 L477.70 119.50 L479.00 119.50 L480.30 119.50 L481.60 119.50 L482.90 119.50 L484.20 119.50 L485.50 119.50" fill="none" stroke="#6cb046" stroke-width="1.85" stroke-linejoin="round"/>
<path d="M354.20 119.50 L355.50 119.50 L356.80 119.50 L358.10 119.50 L359.40 119.50 L360.70 119.50 L362.00 119.50 L363.30 119.50 L364.60 119.50 L365.90 119.50 L367.20 119.50 L368.50 119.50 L369.80 119.50 L371.10 119.50 L372.40 119.50 L373.70 119.50 L375.00 119.50 L376.30 119.50 L377.60 119.50 L378.90 119.50 L380.20 119.50 L381.50 119.50 L382.80 119.50 L384.10 119.50 L385.40 119.50 L386.70 119.50 L388.00 119.50 L389.30 119.50 L390.60 119.50 L391.90 119.50 L393.20 119.50 L394.50 119.50 L395.80 119.50 L397.10 119.50 L398.40 119.50 L399.70 119.50 L401.00 119.50 L402.30 119.50 L403.60 119.50 L404.90 119.50 L406.20 119.50 L407.50 119.50 L408.80 119.50 L410.10 119.50 L411.40 119.50 L412.70 119.50 L414.00 119.50 L415.30 119.03 L416.60 118.39 L417.90 117.96 L419.20 116.59 L420.50 115.48 L421.80 111.26 L423.10 108.82 L424.40 108.20 L425.70 102.99 L427.00 100.74 L428.30 97.77 L429.60 93.48 L430.90 89.30 L432.20 85.63 L433.50 85.92 L434.80 82.10 L436.10 81.00 L437.40 78.13 L438.70 78.43 L440.00 77.27 L441.30 75.59 L442.60 75.69 L443.90 77.19 L445.20 77.63 L446.50 79.44 L447.80 83.83 L449.10 85.93 L450.40 90.97 L451.70 92.41 L453.00 95.74 L454.30 100.38 L455.60 103.69 L456.90 105.03 L458.20 108.27 L459.50 110.29 L460.80 112.68 L462.10 116.55 L463.40 117.28 L464.70 118.65 L466.00 118.83 L467.30 118.89 L468.60 119.50 L469.90 119.50 L471.20 119.50 L472.50 119.50 L473.80 119.50 L475.10 119.50 L476.40 119.50 L477.70 119.50 L479.00 119.50 L480.30 119.50 L481.60 119.50 L482.90 119.50 L484.20 119.50 L485.50 119.50" fill="none" stroke="#284880" stroke-width="2.2" stroke-linejoin="round"/>
<path d="M354.20 119.50 L355.50 119.50 L356.80 119.50 L358.10 119.50 L359.40 119.50 L360.70 119.50 L362.00 119.50 L363.30 119.50 L364.60 119.50 L365.90 119.50 L367.20 119.50 L368.50 119.50 L369.80 119.50 L371.10 119.50 L372.40 119.50 L373.70 119.50 L375.00 119.50 L376.30 119.50 L377.60 119.50 L378.90 119.50 L380.20 119.50 L381.50 119.50 L382.80 119.50 L384.10 119.50 L385.40 119.50 L386.70 119.50 L388.00 119.43 L389.30 119.36 L390.60 119.50 L391.90 119.48 L393.20 119.50 L394.50 119.42 L395.80 119.25 L397.10 119.46 L398.40 119.02 L399.70 119.07 L401.00 119.20 L402.30 118.99 L403.60 119.12 L404.90 118.83 L406.20 118.66 L407.50 117.65 L408.80 117.49 L410.10 117.21 L411.40 116.54 L412.70 115.67 L414.00 114.15 L415.30 113.38 L416.60 113.27 L417.90 110.02 L419.20 107.70 L420.50 104.81 L421.80 102.42 L423.10 102.10 L424.40 98.52 L425.70 96.19 L427.00 92.62 L428.30 92.44 L429.60 88.92 L430.90 88.35 L432.20 89.13 L433.50 86.73 L434.80 85.34 L436.10 84.67 L437.40 84.65 L438.70 84.00 L440.00 83.64 L441.30 84.46 L442.60 87.33 L443.90 89.44 L445.20 91.52 L446.50 95.64 L447.80 97.04 L449.10 96.47 L450.40 98.67 L451.70 98.83 L453.00 102.03 L454.30 102.75 L455.60 104.37 L456.90 106.43 L458.20 109.58 L459.50 110.64 L460.80 113.46 L462.10 115.75 L463.40 116.13 L464.70 116.97 L466.00 118.44 L467.30 118.34 L468.60 118.50 L469.90 119.05 L471.20 119.43 L472.50 119.50 L473.80 119.50 L475.10 119.50 L476.40 119.50 L477.70 119.50 L479.00 119.50 L480.30 119.50 L481.60 119.50 L482.90 119.50 L484.20 119.50 L485.50 119.50" fill="none" stroke="#b20530" stroke-width="2.2" stroke-linejoin="round"/>
<path d="M353.20 120.30 V27.30 M349.90 27.30 H487.60 M487.60 26.70 V120.30" fill="none" stroke="#000" stroke-width="1.3"/>
<line x1="351.40" y1="33.08" x2="353.20" y2="33.08" stroke="#000" stroke-width="0.9"/>
<line x1="351.40" y1="38.85" x2="353.20" y2="38.85" stroke="#000" stroke-width="0.9"/>
<line x1="351.40" y1="44.62" x2="353.20" y2="44.62" stroke="#000" stroke-width="0.9"/>
<line x1="349.90" y1="50.40" x2="353.20" y2="50.40" stroke="#000" stroke-width="0.9"/>
<line x1="351.40" y1="56.17" x2="353.20" y2="56.17" stroke="#000" stroke-width="0.9"/>
<line x1="351.40" y1="61.95" x2="353.20" y2="61.95" stroke="#000" stroke-width="0.9"/>
<line x1="351.40" y1="67.73" x2="353.20" y2="67.73" stroke="#000" stroke-width="0.9"/>
<line x1="349.90" y1="73.50" x2="353.20" y2="73.50" stroke="#000" stroke-width="0.9"/>
<line x1="351.40" y1="79.28" x2="353.20" y2="79.28" stroke="#000" stroke-width="0.9"/>
<line x1="351.40" y1="85.05" x2="353.20" y2="85.05" stroke="#000" stroke-width="0.9"/>
<line x1="351.40" y1="90.83" x2="353.20" y2="90.83" stroke="#000" stroke-width="0.9"/>
<line x1="349.90" y1="96.60" x2="353.20" y2="96.60" stroke="#000" stroke-width="0.9"/>
<line x1="351.40" y1="102.38" x2="353.20" y2="102.38" stroke="#000" stroke-width="0.9"/>
<line x1="351.40" y1="108.15" x2="353.20" y2="108.15" stroke="#000" stroke-width="0.9"/>
<line x1="351.40" y1="113.92" x2="353.20" y2="113.92" stroke="#000" stroke-width="0.9"/>
<line x1="349.90" y1="119.70" x2="353.20" y2="119.70" stroke="#000" stroke-width="0.9"/>
<line x1="353.80" y1="119.70" x2="353.80" y2="122.30" stroke="#000" stroke-width="0.8"/>
<line x1="366.40" y1="119.70" x2="366.40" y2="122.30" stroke="#000" stroke-width="0.8"/>
<line x1="380.80" y1="119.70" x2="380.80" y2="122.30" stroke="#000" stroke-width="0.8"/>
<line x1="413.10" y1="119.70" x2="413.10" y2="122.30" stroke="#000" stroke-width="0.8"/>
<line x1="445.60" y1="119.70" x2="445.60" y2="122.30" stroke="#000" stroke-width="0.8"/>
<line x1="477.60" y1="119.70" x2="477.60" y2="122.30" stroke="#000" stroke-width="0.8"/>
<line x1="389.60" y1="119.70" x2="389.60" y2="121.30" stroke="#000" stroke-width="0.6"/>
<line x1="395.60" y1="119.70" x2="395.60" y2="121.30" stroke="#000" stroke-width="0.6"/>
<line x1="400.60" y1="119.70" x2="400.60" y2="121.30" stroke="#000" stroke-width="0.6"/>
<line x1="404.60" y1="119.70" x2="404.60" y2="121.30" stroke="#000" stroke-width="0.6"/>
<line x1="407.60" y1="119.70" x2="407.60" y2="121.30" stroke="#000" stroke-width="0.6"/>
<line x1="409.60" y1="119.70" x2="409.60" y2="121.30" stroke="#000" stroke-width="0.6"/>
<line x1="411.60" y1="119.70" x2="411.60" y2="121.30" stroke="#000" stroke-width="0.6"/>
<line x1="422.60" y1="119.70" x2="422.60" y2="121.30" stroke="#000" stroke-width="0.6"/>
<line x1="428.60" y1="119.70" x2="428.60" y2="121.30" stroke="#000" stroke-width="0.6"/>
<line x1="433.60" y1="119.70" x2="433.60" y2="121.30" stroke="#000" stroke-width="0.6"/>
<line x1="437.60" y1="119.70" x2="437.60" y2="121.30" stroke="#000" stroke-width="0.6"/>
<line x1="440.60" y1="119.70" x2="440.60" y2="121.30" stroke="#000" stroke-width="0.6"/>
<line x1="442.60" y1="119.70" x2="442.60" y2="121.30" stroke="#000" stroke-width="0.6"/>
<line x1="444.60" y1="119.70" x2="444.60" y2="121.30" stroke="#000" stroke-width="0.6"/>
<line x1="455.60" y1="119.70" x2="455.60" y2="121.30" stroke="#000" stroke-width="0.6"/>
<line x1="461.60" y1="119.70" x2="461.60" y2="121.30" stroke="#000" stroke-width="0.6"/>
<line x1="466.60" y1="119.70" x2="466.60" y2="121.30" stroke="#000" stroke-width="0.6"/>
<line x1="470.60" y1="119.70" x2="470.60" y2="121.30" stroke="#000" stroke-width="0.6"/>
<line x1="473.60" y1="119.70" x2="473.60" y2="121.30" stroke="#000" stroke-width="0.6"/>
<line x1="475.60" y1="119.70" x2="475.60" y2="121.30" stroke="#000" stroke-width="0.6"/>
<text x="119.40" y="22.00" font-size="9.4" text-anchor="middle" textLength="71.20" lengthAdjust="spacingAndGlyphs" fill="#1c1c1c" stroke="#1c1c1c" stroke-width="0.15">8226-pCDNA3.1</text>
<text x="270.20" y="22.00" font-size="9.4" text-anchor="middle" textLength="69.50" lengthAdjust="spacingAndGlyphs" fill="#1c1c1c" stroke="#1c1c1c" stroke-width="0.15">8226-CD86FLm</text>
<text x="420.50" y="22.00" font-size="9.4" text-anchor="middle" textLength="69.50" lengthAdjust="spacingAndGlyphs" fill="#1c1c1c" stroke="#1c1c1c" stroke-width="0.15">8226-CD86TLm</text>
<text x="32.90" y="30.10" font-size="7.6" textLength="13.80" lengthAdjust="spacingAndGlyphs" fill="#1c1c1c">400</text>
<text x="42.40" y="122.60" font-size="7.6" textLength="4.60" lengthAdjust="spacingAndGlyphs" fill="#1c1c1c">0</text>
<text x="27.00" y="71.80" font-size="8.0" text-anchor="middle" textLength="33.00" lengthAdjust="spacingAndGlyphs" transform="rotate(-90 27.00 71.80)" fill="#000" stroke="#000" stroke-width="0.18">No. of cells</text>
<text x="67.40" y="134.30" font-size="7.6" text-anchor="middle" textLength="4.60" lengthAdjust="spacingAndGlyphs" fill="#1c1c1c">0</text>
<text x="174.60" y="133.80" font-size="7.6" text-anchor="middle" textLength="8.60" lengthAdjust="spacingAndGlyphs" fill="#1c1c1c">10</text>
<text x="179.40" y="130.00" font-size="5" fill="#1c1c1c">5</text>
<text x="217.60" y="131.90" font-size="7.6" text-anchor="middle" textLength="4.60" lengthAdjust="spacingAndGlyphs" fill="#1c1c1c">0</text>
<text x="323.60" y="133.80" font-size="7.6" text-anchor="middle" textLength="8.60" lengthAdjust="spacingAndGlyphs" fill="#1c1c1c">10</text>
<text x="328.40" y="130.00" font-size="5" fill="#1c1c1c">5</text>
<text x="368.00" y="131.90" font-size="7.6" text-anchor="middle" textLength="4.60" lengthAdjust="spacingAndGlyphs" fill="#1c1c1c">0</text>
<text x="472.00" y="133.80" font-size="7.6" text-anchor="middle" textLength="8.60" lengthAdjust="spacingAndGlyphs" fill="#1c1c1c">10</text>
<text x="476.80" y="130.00" font-size="5" fill="#1c1c1c">5</text>
<text x="120.30" y="144.60" font-size="9.0" text-anchor="middle" textLength="15.90" lengthAdjust="spacingAndGlyphs" fill="#000" stroke="#000" stroke-width="0.3">CD86</text>
<text x="269.30" y="144.60" font-size="9.0" text-anchor="middle" textLength="15.90" lengthAdjust="spacingAndGlyphs" fill="#000" stroke="#000" stroke-width="0.3">CD86</text>
<text x="420.80" y="144.60" font-size="9.0" text-anchor="middle" textLength="15.90" lengthAdjust="spacingAndGlyphs" fill="#000" stroke="#000" stroke-width="0.3">CD86</text>
<line x1="138.20" y1="33.50" x2="146.40" y2="33.50" stroke="#6db04a" stroke-width="1.5"/>
<text x="151.00" y="36.20" font-size="7.8" textLength="24.50" lengthAdjust="spacingAndGlyphs" fill="#1c1c1c">pLKO.1</text>
<line x1="138.20" y1="40.65" x2="146.40" y2="40.65" stroke="#a01535" stroke-width="1.5"/>
<text x="151.00" y="43.35" font-size="7.8" textLength="28.50" lengthAdjust="spacingAndGlyphs" fill="#1c1c1c">shCD86</text>
<line x1="138.20" y1="47.80" x2="146.40" y2="47.80" stroke="#2b4f86" stroke-width="1.5"/>
<text x="151.00" y="50.50" font-size="7.8" textLength="28.50" lengthAdjust="spacingAndGlyphs" fill="#1c1c1c">shCD28</text>
<line x1="138.20" y1="54.95" x2="146.40" y2="54.95" stroke="#3c4664" stroke-width="1.5"/>
<text x="151.00" y="57.65" font-size="7.8" textLength="35.50" lengthAdjust="spacingAndGlyphs" fill="#1c1c1c">shGAPDH</text>
<line x1="138.20" y1="62.10" x2="146.40" y2="62.10" stroke="#c4c8c4" stroke-width="0.7"/>
<text x="151.00" y="64.80" font-size="7.8" textLength="31.50" lengthAdjust="spacingAndGlyphs" fill="#1c1c1c">unstained</text>
<text x="7.80" y="172.80" font-size="10.5" textLength="7.40" lengthAdjust="spacingAndGlyphs" font-weight="bold" fill="#000">B</text>
<line x1="53.10" y1="183.50" x2="53.10" y2="290.60" stroke="#000" stroke-width="1.3"/>
<line x1="52.50" y1="290.00" x2="218.00" y2="290.00" stroke="#000" stroke-width="1.3"/>
<line x1="49.70" y1="290.00" x2="53.10" y2="290.00" stroke="#000" stroke-width="1.1"/>
<line x1="49.70" y1="269.15" x2="53.10" y2="269.15" stroke="#000" stroke-width="1.1"/>
<line x1="49.70" y1="248.30" x2="53.10" y2="248.30" stroke="#000" stroke-width="1.1"/>
<line x1="49.70" y1="227.45" x2="53.10" y2="227.45" stroke="#000" stroke-width="1.1"/>
<line x1="49.70" y1="206.60" x2="53.10" y2="206.60" stroke="#000" stroke-width="1.1"/>
<line x1="49.70" y1="185.75" x2="53.10" y2="185.75" stroke="#000" stroke-width="1.1"/>
<text x="47.00" y="188.70" font-size="7.6" text-anchor="end" textLength="13.40" lengthAdjust="spacingAndGlyphs" fill="#1c1c1c">100</text>
<text x="47.00" y="272.50" font-size="7.6" text-anchor="end" textLength="9.00" lengthAdjust="spacingAndGlyphs" fill="#1c1c1c">20</text>
<text x="47.00" y="292.70" font-size="7.6" text-anchor="end" textLength="4.60" lengthAdjust="spacingAndGlyphs" fill="#1c1c1c">0</text>
<text x="26.80" y="236.30" font-size="8.2" text-anchor="middle" textLength="101.20" lengthAdjust="spacingAndGlyphs" transform="rotate(-90 26.80 236.30)" fill="#000" stroke="#000" stroke-width="0.18">Percent control Annexin V positive</text>
<line x1="65.35" y1="215.70" x2="65.35" y2="219.40" stroke="#000" stroke-width="1.1"/>
<line x1="62.65" y1="215.70" x2="68.05" y2="215.70" stroke="#000" stroke-width="1.2"/>
<rect x="60.20" y="218.90" width="10.30" height="71.10" fill="#6cb23f"/>
<line x1="80.65" y1="237.80" x2="80.65" y2="242.80" stroke="#000" stroke-width="1.1"/>
<line x1="77.95" y1="237.80" x2="83.35" y2="237.80" stroke="#000" stroke-width="1.2"/>
<rect x="75.50" y="242.30" width="10.30" height="47.70" fill="#b00a2c"/>
<line x1="95.75" y1="226.70" x2="95.75" y2="230.70" stroke="#000" stroke-width="1.1"/>
<line x1="93.05" y1="226.70" x2="98.45" y2="226.70" stroke="#000" stroke-width="1.2"/>
<rect x="90.60" y="230.20" width="10.30" height="59.80" fill="#2c4f8a"/>
<line x1="120.75" y1="255.00" x2="120.75" y2="257.60" stroke="#000" stroke-width="1.1"/>
<line x1="118.05" y1="255.00" x2="123.45" y2="255.00" stroke="#000" stroke-width="1.2"/>
<rect x="115.60" y="257.10" width="10.30" height="32.90" fill="#6cb23f"/>
<line x1="135.75" y1="282.20" x2="135.75" y2="284.70" stroke="#000" stroke-width="1.1"/>
<line x1="133.05" y1="282.20" x2="138.45" y2="282.20" stroke="#000" stroke-width="1.2"/>
<rect x="130.60" y="284.20" width="10.30" height="5.80" fill="#b00a2c"/>
<line x1="150.75" y1="262.80" x2="150.75" y2="266.60" stroke="#000" stroke-width="1.1"/>
<line x1="148.05" y1="262.80" x2="153.45" y2="262.80" stroke="#000" stroke-width="1.2"/>
<rect x="145.60" y="266.10" width="10.30" height="23.90" fill="#2c4f8a"/>
<line x1="176.15" y1="281.20" x2="176.15" y2="284.20" stroke="#000" stroke-width="1.1"/>
<line x1="173.45" y1="281.20" x2="178.85" y2="281.20" stroke="#000" stroke-width="1.2"/>
<rect x="171.00" y="283.70" width="10.30" height="6.30" fill="#6cb23f"/>
<line x1="190.95" y1="283.20" x2="190.95" y2="284.90" stroke="#000" stroke-width="1.1"/>
<line x1="188.25" y1="283.20" x2="193.65" y2="283.20" stroke="#000" stroke-width="1.2"/>
<rect x="185.80" y="284.40" width="10.30" height="5.60" fill="#b00a2c"/>
<rect x="201.60" y="288.90" width="6.80" height="0.80" fill="#222"/>
<line x1="80.50" y1="290.00" x2="80.50" y2="292.80" stroke="#111" stroke-width="1.0"/>
<line x1="135.70" y1="290.00" x2="135.70" y2="292.80" stroke="#111" stroke-width="1.0"/>
<line x1="191.00" y1="290.00" x2="191.00" y2="292.80" stroke="#111" stroke-width="1.0"/>
<path d="M65.40 210.00 V191.80 H95.70 V221.00" fill="none" stroke="#000" stroke-width="1.15"/>
<path d="M65.40 210.00 V202.10 H80.70 V232.10" fill="none" stroke="#000" stroke-width="1.15"/>
<path d="M120.50 249.70 V230.60 H150.50 V258.00" fill="none" stroke="#000" stroke-width="1.15"/>
<path d="M120.50 249.70 V242.60 H135.50 V280.60" fill="none" stroke="#000" stroke-width="1.15"/>
<text x="80.40" y="190.60" font-size="8.5" text-anchor="middle" font-weight="bold" fill="#1c1c1c">*</text>
<text x="73.00" y="201.20" font-size="8.5" text-anchor="middle" font-weight="bold" fill="#1c1c1c">**</text>
<text x="135.20" y="229.80" font-size="8.5" text-anchor="middle" font-weight="bold" fill="#1c1c1c">*</text>
<text x="128.20" y="241.60" font-size="8.5" text-anchor="middle" font-weight="bold" fill="#1c1c1c">***</text>
<text x="80.50" y="303.90" font-size="8" text-anchor="middle" textLength="29.20" lengthAdjust="spacingAndGlyphs" fill="#1c1c1c" stroke="#1c1c1c" stroke-width="0.15">shCD86</text>
<text x="135.70" y="303.90" font-size="8" text-anchor="middle" textLength="29.20" lengthAdjust="spacingAndGlyphs" fill="#1c1c1c" stroke="#1c1c1c" stroke-width="0.15">shCD28</text>
<text x="191.00" y="303.90" font-size="8" text-anchor="middle" textLength="36.50" lengthAdjust="spacingAndGlyphs" fill="#1c1c1c" stroke="#1c1c1c" stroke-width="0.15">shGAPDH</text>
<rect x="151.70" y="183.80" width="7.00" height="6.90" fill="#6cb23f"/>
<text x="162.00" y="190.30" font-size="8" textLength="56.00" lengthAdjust="spacingAndGlyphs" fill="#1c1c1c" stroke="#1c1c1c" stroke-width="0.15">8226-pCDNA3.1</text>
<rect x="151.70" y="193.55" width="7.00" height="6.90" fill="#b00a2c"/>
<text x="162.00" y="199.85" font-size="8" textLength="55.00" lengthAdjust="spacingAndGlyphs" fill="#1c1c1c" stroke="#1c1c1c" stroke-width="0.15">8226-CD86FLm</text>
<rect x="151.70" y="203.30" width="7.00" height="6.90" fill="#2c4f8a"/>
<text x="162.00" y="209.40" font-size="8" textLength="55.00" lengthAdjust="spacingAndGlyphs" fill="#1c1c1c" stroke="#1c1c1c" stroke-width="0.15">8226-CD86TLm</text>
<text x="233.60" y="175.10" font-size="10.5" textLength="7.70" lengthAdjust="spacingAndGlyphs" font-weight="bold" fill="#000">C</text>
<line x1="275.20" y1="176.80" x2="275.20" y2="230.20" stroke="#000" stroke-width="1.4"/>
<line x1="275.20" y1="239.00" x2="275.20" y2="290.30" stroke="#000" stroke-width="1.4"/>
<line x1="274.50" y1="289.70" x2="449.70" y2="289.70" stroke="#000" stroke-width="1.3"/>
<line x1="271.60" y1="179.60" x2="275.20" y2="179.60" stroke="#000" stroke-width="1.1"/>
<line x1="271.60" y1="204.60" x2="275.20" y2="204.60" stroke="#000" stroke-width="1.1"/>
<line x1="271.60" y1="229.70" x2="275.20" y2="229.70" stroke="#000" stroke-width="1.1"/>
<line x1="271.60" y1="239.50" x2="275.20" y2="239.50" stroke="#000" stroke-width="1.1"/>
<line x1="271.60" y1="264.60" x2="275.20" y2="264.60" stroke="#000" stroke-width="1.1"/>
<line x1="271.60" y1="289.70" x2="275.20" y2="289.70" stroke="#000" stroke-width="1.1"/>
<line x1="272.80" y1="252.00" x2="275.20" y2="252.00" stroke="#000" stroke-width="1.0"/>
<line x1="272.80" y1="277.20" x2="275.20" y2="277.20" stroke="#000" stroke-width="1.0"/>
<text x="269.00" y="182.50" font-size="7.6" text-anchor="end" textLength="8.80" lengthAdjust="spacingAndGlyphs" fill="#1c1c1c">15</text>
<text x="269.00" y="232.60" font-size="7.6" text-anchor="end" textLength="4.40" lengthAdjust="spacingAndGlyphs" fill="#1c1c1c">5</text>
<text x="269.00" y="242.50" font-size="7.6" text-anchor="end" textLength="11.10" lengthAdjust="spacingAndGlyphs" fill="#1c1c1c">2.0</text>
<text x="269.00" y="267.50" font-size="7.6" text-anchor="end" textLength="11.00" lengthAdjust="spacingAndGlyphs" fill="#1c1c1c">1.0</text>
<text x="269.00" y="292.60" font-size="7.6" text-anchor="end" textLength="11.20" lengthAdjust="spacingAndGlyphs" fill="#1c1c1c">0.0</text>
<text x="253.50" y="234.20" font-size="8.2" text-anchor="middle" textLength="112.50" lengthAdjust="spacingAndGlyphs" transform="rotate(-90 253.50 234.20)" fill="#000" stroke="#000" stroke-width="0.18">mRNA fold-change to 8226-pCDNA3.1</text>
<line x1="294.70" y1="197.60" x2="294.70" y2="212.70" stroke="#000" stroke-width="1.2"/>
<line x1="290.90" y1="197.60" x2="298.50" y2="197.60" stroke="#000" stroke-width="1.3"/>
<rect x="287.00" y="212.20" width="15.40" height="77.50" fill="#b00a2c"/>
<line x1="318.50" y1="264.90" x2="318.50" y2="267.10" stroke="#000" stroke-width="1.2"/>
<line x1="314.70" y1="264.90" x2="322.30" y2="264.90" stroke="#000" stroke-width="1.3"/>
<rect x="310.80" y="266.60" width="15.40" height="23.10" fill="#2c4f8a"/>
<line x1="342.40" y1="248.30" x2="342.40" y2="254.60" stroke="#000" stroke-width="1.2"/>
<line x1="338.60" y1="248.30" x2="346.20" y2="248.30" stroke="#000" stroke-width="1.3"/>
<rect x="334.70" y="254.10" width="15.40" height="35.60" fill="#2f9e52"/>
<line x1="382.40" y1="201.60" x2="382.40" y2="216.90" stroke="#000" stroke-width="1.2"/>
<line x1="378.60" y1="201.60" x2="386.20" y2="201.60" stroke="#000" stroke-width="1.3"/>
<rect x="374.70" y="216.40" width="15.40" height="73.30" fill="#b00a2c"/>
<line x1="405.90" y1="262.90" x2="405.90" y2="267.90" stroke="#000" stroke-width="1.2"/>
<line x1="402.10" y1="262.90" x2="409.70" y2="262.90" stroke="#000" stroke-width="1.3"/>
<rect x="398.20" y="267.40" width="15.40" height="22.30" fill="#2c4f8a"/>
<line x1="429.70" y1="271.10" x2="429.70" y2="275.40" stroke="#000" stroke-width="1.2"/>
<line x1="425.90" y1="271.10" x2="433.50" y2="271.10" stroke="#000" stroke-width="1.3"/>
<rect x="422.00" y="274.90" width="15.40" height="14.80" fill="#2f9e52"/>
<rect x="280.00" y="230.00" width="120.00" height="9.80" fill="#fff"/>
<line x1="318.30" y1="289.70" x2="318.30" y2="292.50" stroke="#111" stroke-width="1.0"/>
<line x1="406.00" y1="289.70" x2="406.00" y2="292.50" stroke="#111" stroke-width="1.0"/>
<text x="318.60" y="303.90" font-size="8" text-anchor="middle" textLength="37.30" lengthAdjust="spacingAndGlyphs" fill="#1c1c1c" stroke="#1c1c1c" stroke-width="0.15">CD86FLm</text>
<text x="406.00" y="303.90" font-size="8" text-anchor="middle" textLength="37.30" lengthAdjust="spacingAndGlyphs" fill="#1c1c1c" stroke="#1c1c1c" stroke-width="0.15">CD86TLm</text>
<rect x="407.30" y="179.50" width="12.00" height="3.80" fill="#b00a2c"/>
<text x="422.80" y="183.70" font-size="8" textLength="20.00" lengthAdjust="spacingAndGlyphs" font-style="italic" fill="#1c1c1c">CD86</text>
<rect x="407.30" y="187.75" width="12.00" height="3.80" fill="#2c4f8a"/>
<text x="422.80" y="191.90" font-size="8" textLength="20.00" lengthAdjust="spacingAndGlyphs" font-style="italic" fill="#1c1c1c">CD28</text>
<rect x="407.30" y="196.00" width="12.00" height="3.80" fill="#2f9e52"/>
<text x="422.80" y="200.10" font-size="8" textLength="17.00" lengthAdjust="spacingAndGlyphs" font-style="italic" fill="#1c1c1c">IRF4</text>
<text x="7.00" y="331.80" font-size="11" textLength="8.00" lengthAdjust="spacingAndGlyphs" font-weight="bold" fill="#000">D</text>
<text x="86.40" y="342.90" font-size="9.5" text-anchor="middle" textLength="46.50" lengthAdjust="spacingAndGlyphs" fill="#111" stroke="#1c1c1c" stroke-width="0.15">pCDNA3.1</text>
<text x="152.20" y="342.90" font-size="9.5" text-anchor="middle" textLength="44.50" lengthAdjust="spacingAndGlyphs" fill="#111" stroke="#1c1c1c" stroke-width="0.15">CD86FLm</text>
<text x="213.70" y="342.90" font-size="9.5" text-anchor="middle" textLength="44.00" lengthAdjust="spacingAndGlyphs" fill="#111" stroke="#1c1c1c" stroke-width="0.15">CD86TLm</text>
<line x1="52.00" y1="345.60" x2="252.50" y2="345.60" stroke="#000" stroke-width="1.3"/>
<line x1="119.60" y1="333.80" x2="119.60" y2="363.80" stroke="#000" stroke-width="1.4"/>
<line x1="184.50" y1="333.80" x2="184.50" y2="363.80" stroke="#000" stroke-width="1.4"/>
<text x="24.30" y="357.70" font-size="8" textLength="23.40" lengthAdjust="spacingAndGlyphs" fill="#1c1c1c">shRNA</text>
<text x="64.00" y="357.50" font-size="7.0" text-anchor="middle" textLength="6.60" lengthAdjust="spacingAndGlyphs" fill="#2a2a2a">(-)</text>
<text x="78.70" y="357.50" font-size="7.8" text-anchor="middle" textLength="9.30" lengthAdjust="spacingAndGlyphs" fill="#2a2a2a">86</text>
<text x="95.40" y="357.50" font-size="7.8" text-anchor="middle" textLength="9.30" lengthAdjust="spacingAndGlyphs" fill="#2a2a2a">28</text>
<text x="109.70" y="357.50" font-size="7.8" text-anchor="middle" textLength="6.00" lengthAdjust="spacingAndGlyphs" fill="#2a2a2a">G</text>
<text x="128.00" y="357.50" font-size="7.0" text-anchor="middle" textLength="6.60" lengthAdjust="spacingAndGlyphs" fill="#2a2a2a">(-)</text>
<text x="143.30" y="357.50" font-size="7.8" text-anchor="middle" textLength="9.30" lengthAdjust="spacingAndGlyphs" fill="#2a2a2a">86</text>
<text x="159.30" y="357.50" font-size="7.8" text-anchor="middle" textLength="9.30" lengthAdjust="spacingAndGlyphs" fill="#2a2a2a">28</text>
<text x="173.80" y="357.50" font-size="7.8" text-anchor="middle" textLength="6.00" lengthAdjust="spacingAndGlyphs" fill="#2a2a2a">G</text>
<text x="193.20" y="357.50" font-size="7.0" text-anchor="middle" textLength="6.60" lengthAdjust="spacingAndGlyphs" fill="#2a2a2a">(-)</text>
<text x="208.80" y="357.50" font-size="7.8" text-anchor="middle" textLength="9.30" lengthAdjust="spacingAndGlyphs" fill="#2a2a2a">86</text>
<text x="224.30" y="357.50" font-size="7.8" text-anchor="middle" textLength="9.30" lengthAdjust="spacingAndGlyphs" fill="#2a2a2a">28</text>
<text x="239.30" y="357.50" font-size="7.8" text-anchor="middle" textLength="6.00" lengthAdjust="spacingAndGlyphs" fill="#2a2a2a">G</text>
<text x="47.70" y="373.90" font-size="8" text-anchor="end" textLength="15.80" lengthAdjust="spacingAndGlyphs" fill="#1c1c1c">IRF4</text>
<text x="47.70" y="393.60" font-size="8" text-anchor="end" textLength="23.40" lengthAdjust="spacingAndGlyphs" fill="#1c1c1c">β-Actin</text>
<rect x="52.30" y="363.50" width="199.90" height="14.60" fill="url(#gD1)"/>
<g>
<rect x="57.25" y="369.30" width="12.50" height="3.60" rx="1.80" fill="#101010" opacity="0.8" filter="url(#b1)"/>
<rect x="74.20" y="370.40" width="9.00" height="2.40" rx="1.20" fill="#101010" opacity="0.16" filter="url(#b1)"/>
<rect x="90.85" y="370.40" width="9.50" height="2.40" rx="1.20" fill="#101010" opacity="0.2" filter="url(#b1)"/>
<rect x="106.00" y="369.70" width="11.00" height="3.00" rx="1.50" fill="#101010" opacity="0.55" filter="url(#b1)"/>
<rect x="121.65" y="368.40" width="13.50" height="6.40" rx="3.20" fill="#101010" opacity="0.95" filter="url(#b1)"/>
<rect x="138.75" y="369.80" width="10.50" height="2.80" rx="1.40" fill="#101010" opacity="0.6" filter="url(#b1)"/>
<rect x="154.85" y="370.70" width="11.50" height="3.40" rx="1.70" fill="#101010" opacity="0.7" filter="url(#b1)"/>
<rect x="171.05" y="369.80" width="12.50" height="5.00" rx="2.50" fill="#101010" opacity="0.85" filter="url(#b1)"/>
<rect x="187.70" y="371.40" width="12.00" height="3.60" rx="1.80" fill="#101010" opacity="0.7" filter="url(#b1)"/>
<rect x="204.20" y="372.90" width="9.00" height="2.20" rx="1.10" fill="#101010" opacity="0.25" filter="url(#b1)"/>
<rect x="219.85" y="372.60" width="9.50" height="2.60" rx="1.30" fill="#101010" opacity="0.4" filter="url(#b1)"/>
<rect x="235.25" y="371.20" width="12.50" height="3.20" rx="1.60" fill="#101010" opacity="0.65" filter="url(#b1)"/>
</g>
<rect x="52.30" y="363.50" width="199.90" height="14.60" fill="none" stroke="#000" stroke-width="1.6"/>
<ellipse cx="128.4" cy="371.6" rx="10" ry="6.5" fill="#000" opacity="0.12" filter="url(#b1)"/>
<rect x="52.30" y="381.30" width="199.90" height="18.40" fill="url(#gD2)"/>
<g>
<rect x="56.35" y="387.60" width="12.50" height="3.40" rx="1.70" fill="#101010" opacity="0.9" filter="url(#b1)"/>
<rect x="73.60" y="388.90" width="9.00" height="2.00" rx="1.00" fill="#101010" opacity="0.5" filter="url(#b1)"/>
<rect x="89.25" y="388.00" width="11.50" height="3.20" rx="1.60" fill="#101010" opacity="0.85" filter="url(#b1)"/>
<rect x="104.95" y="388.30" width="10.50" height="2.60" rx="1.30" fill="#101010" opacity="0.8" filter="url(#b1)"/>
<rect x="121.30" y="387.70" width="12.00" height="3.40" rx="1.70" fill="#101010" opacity="0.9" filter="url(#b1)"/>
<rect x="138.20" y="388.50" width="11.00" height="2.60" rx="1.30" fill="#101010" opacity="0.8" filter="url(#b1)"/>
<rect x="153.80" y="389.20" width="12.00" height="3.20" rx="1.60" fill="#101010" opacity="0.9" filter="url(#b1)"/>
<rect x="170.10" y="389.30" width="12.00" height="3.00" rx="1.50" fill="#101010" opacity="0.9" filter="url(#b1)"/>
<rect x="186.05" y="389.40" width="12.50" height="3.20" rx="1.60" fill="#101010" opacity="0.9" filter="url(#b1)"/>
<rect x="202.95" y="389.90" width="10.50" height="2.60" rx="1.30" fill="#101010" opacity="0.85" filter="url(#b1)"/>
<rect x="217.95" y="389.80" width="11.50" height="3.20" rx="1.60" fill="#101010" opacity="0.9" filter="url(#b1)"/>
<rect x="234.30" y="389.50" width="13.00" height="3.40" rx="1.70" fill="#101010" opacity="0.9" filter="url(#b1)"/>
</g>
<rect x="52.30" y="381.30" width="199.90" height="18.40" fill="none" stroke="#000" stroke-width="1.6"/>
<line x1="252.00" y1="372.70" x2="257.80" y2="372.70" stroke="#000" stroke-width="1.7"/>
<text x="260.60" y="375.50" font-size="8.1" textLength="26.90" lengthAdjust="spacingAndGlyphs" fill="#111" stroke="#111" stroke-width="0.22">50 KDa</text>
<line x1="252.00" y1="387.40" x2="257.80" y2="387.40" stroke="#000" stroke-width="1.7"/>
<text x="260.60" y="390.20" font-size="8.1" textLength="26.90" lengthAdjust="spacingAndGlyphs" fill="#111" stroke="#111" stroke-width="0.22">50 KDa</text>
<line x1="252.00" y1="398.20" x2="257.80" y2="398.20" stroke="#000" stroke-width="1.7"/>
<text x="260.60" y="401.00" font-size="8.1" textLength="26.90" lengthAdjust="spacingAndGlyphs" fill="#111" stroke="#111" stroke-width="0.22">37 KDa</text>
<text x="7.30" y="428.80" font-size="10.5" textLength="7.20" lengthAdjust="spacingAndGlyphs" font-weight="bold" fill="#000">F</text>
<text x="80.60" y="441.50" font-size="9.5" text-anchor="middle" textLength="46.30" lengthAdjust="spacingAndGlyphs" fill="#111" stroke="#1c1c1c" stroke-width="0.15">pCDNA3.1</text>
<text x="137.20" y="441.50" font-size="9.5" text-anchor="middle" textLength="44.30" lengthAdjust="spacingAndGlyphs" fill="#111" stroke="#1c1c1c" stroke-width="0.15">CD86FLm</text>
<line x1="51.30" y1="445.00" x2="167.30" y2="445.00" stroke="#000" stroke-width="1.3"/>
<line x1="109.30" y1="428.80" x2="109.30" y2="464.30" stroke="#000" stroke-width="1.4"/>
<text x="24.30" y="456.80" font-size="8" textLength="23.40" lengthAdjust="spacingAndGlyphs" fill="#1c1c1c">shRNA</text>
<text x="61.30" y="456.30" font-size="7.0" text-anchor="middle" textLength="6.60" lengthAdjust="spacingAndGlyphs" fill="#2a2a2a">(-)</text>
<text x="75.90" y="456.30" font-size="7.8" text-anchor="middle" textLength="9.30" lengthAdjust="spacingAndGlyphs" fill="#2a2a2a">86</text>
<text x="93.90" y="456.30" font-size="7.8" text-anchor="middle" textLength="16.20" lengthAdjust="spacingAndGlyphs" fill="#2a2a2a">IRF4</text>
<text x="121.30" y="456.30" font-size="7.0" text-anchor="middle" textLength="6.60" lengthAdjust="spacingAndGlyphs" fill="#2a2a2a">(-)</text>
<text x="136.50" y="456.30" font-size="7.8" text-anchor="middle" textLength="9.30" lengthAdjust="spacingAndGlyphs" fill="#2a2a2a">86</text>
<text x="154.20" y="456.30" font-size="7.8" text-anchor="middle" textLength="16.20" lengthAdjust="spacingAndGlyphs" fill="#2a2a2a">IRF4</text>
<text x="47.60" y="477.90" font-size="8" text-anchor="end" textLength="15.80" lengthAdjust="spacingAndGlyphs" fill="#1c1c1c">IRF4</text>
<text x="47.60" y="502.90" font-size="8" text-anchor="end" textLength="23.40" lengthAdjust="spacingAndGlyphs" fill="#1c1c1c">β-Actin</text>
<rect x="51.90" y="464.40" width="115.60" height="21.40" fill="url(#gF1)"/>
<g>
<rect x="58.30" y="474.80" width="12.00" height="3.00" rx="1.50" fill="#101010" opacity="0.55" filter="url(#b1)"/>
<rect x="75.25" y="474.40" width="12.50" height="2.80" rx="1.40" fill="#101010" opacity="0.42" filter="url(#b1)"/>
<rect x="93.35" y="473.90" width="10.50" height="2.20" rx="1.10" fill="#101010" opacity="0.2" filter="url(#b1)"/>
<rect x="110.50" y="472.10" width="15.00" height="4.40" rx="2.20" fill="#101010" opacity="0.92" filter="url(#b1)"/>
<rect x="129.80" y="473.10" width="14.00" height="3.00" rx="1.50" fill="#101010" opacity="0.55" filter="url(#b1)"/>
</g>
<rect x="51.90" y="464.40" width="115.60" height="21.40" fill="none" stroke="#000" stroke-width="1.6"/>
<rect x="51.90" y="490.00" width="115.60" height="20.90" fill="url(#gF2)"/>
<g>
<rect x="55.50" y="497.50" width="15.00" height="3.60" rx="1.80" fill="#101010" opacity="0.72" filter="url(#b1)"/>
<rect x="74.00" y="497.50" width="15.00" height="3.60" rx="1.80" fill="#101010" opacity="0.72" filter="url(#b1)"/>
<rect x="91.90" y="496.90" width="14.00" height="3.40" rx="1.70" fill="#101010" opacity="0.7" filter="url(#b1)"/>
<rect x="109.90" y="496.30" width="15.00" height="3.40" rx="1.70" fill="#101010" opacity="0.7" filter="url(#b1)"/>
<rect x="129.55" y="496.30" width="14.50" height="3.40" rx="1.70" fill="#101010" opacity="0.7" filter="url(#b1)"/>
<rect x="148.25" y="497.20" width="14.50" height="3.20" rx="1.60" fill="#101010" opacity="0.65" filter="url(#b1)"/>
</g>
<rect x="51.90" y="490.00" width="115.60" height="20.90" fill="none" stroke="#000" stroke-width="1.6"/>
<line x1="167.50" y1="474.40" x2="172.60" y2="474.40" stroke="#000" stroke-width="1.7"/>
<text x="175.80" y="477.20" font-size="8.1" textLength="26.90" lengthAdjust="spacingAndGlyphs" fill="#111" stroke="#111" stroke-width="0.22">50 KDa</text>
<line x1="167.50" y1="494.40" x2="172.60" y2="494.40" stroke="#000" stroke-width="1.7"/>
<text x="175.80" y="497.20" font-size="8.1" textLength="26.90" lengthAdjust="spacingAndGlyphs" fill="#111" stroke="#111" stroke-width="0.22">50 KDa</text>
<line x1="167.50" y1="505.40" x2="172.60" y2="505.40" stroke="#000" stroke-width="1.7"/>
<text x="175.80" y="508.20" font-size="8.1" textLength="26.90" lengthAdjust="spacingAndGlyphs" fill="#111" stroke="#111" stroke-width="0.22">37 KDa</text>
<text x="300.30" y="331.80" font-size="10.5" textLength="7.00" lengthAdjust="spacingAndGlyphs" font-weight="bold" fill="#000">E</text>
<line x1="356.10" y1="335.30" x2="356.10" y2="437.80" stroke="#000" stroke-width="1.4"/>
<line x1="355.40" y1="437.20" x2="510.00" y2="437.20" stroke="#000" stroke-width="1.3"/>
<line x1="352.90" y1="437.20" x2="356.10" y2="437.20" stroke="#000" stroke-width="1.1"/>
<line x1="352.90" y1="417.52" x2="356.10" y2="417.52" stroke="#000" stroke-width="1.1"/>
<line x1="352.90" y1="397.84" x2="356.10" y2="397.84" stroke="#000" stroke-width="1.1"/>
<line x1="352.90" y1="378.16" x2="356.10" y2="378.16" stroke="#000" stroke-width="1.1"/>
<line x1="352.90" y1="358.48" x2="356.10" y2="358.48" stroke="#000" stroke-width="1.1"/>
<line x1="352.90" y1="338.80" x2="356.10" y2="338.80" stroke="#000" stroke-width="1.1"/>
<text x="349.50" y="340.90" font-size="7.6" text-anchor="end" textLength="12.80" lengthAdjust="spacingAndGlyphs" fill="#1c1c1c">100</text>
<text x="349.80" y="420.40" font-size="7.6" text-anchor="end" textLength="9.00" lengthAdjust="spacingAndGlyphs" fill="#1c1c1c">20</text>
<text x="349.80" y="440.00" font-size="7.6" text-anchor="end" textLength="4.60" lengthAdjust="spacingAndGlyphs" fill="#1c1c1c">0</text>
<text x="319.20" y="386.50" font-size="8.3" text-anchor="middle" textLength="76.80" lengthAdjust="spacingAndGlyphs" transform="rotate(-90 319.20 386.50)" fill="#000" stroke="#000" stroke-width="0.18">Percent of pLKO.1 control</text>
<text x="329.80" y="386.80" font-size="8.3" text-anchor="middle" textLength="53.20" lengthAdjust="spacingAndGlyphs" transform="rotate(-90 329.80 386.80)" fill="#000" stroke="#000" stroke-width="0.18">Annexin V positive</text>
<line x1="380.40" y1="379.70" x2="380.40" y2="383.70" stroke="#000" stroke-width="1.2"/>
<line x1="375.70" y1="379.70" x2="385.10" y2="379.70" stroke="#000" stroke-width="1.3"/>
<rect x="370.60" y="383.20" width="19.60" height="54.00" fill="#6cb23f"/>
<line x1="409.80" y1="394.70" x2="409.80" y2="398.70" stroke="#000" stroke-width="1.2"/>
<line x1="405.10" y1="394.70" x2="414.50" y2="394.70" stroke="#000" stroke-width="1.3"/>
<rect x="400.00" y="398.20" width="19.60" height="39.00" fill="#b00a2c"/>
<line x1="459.30" y1="372.60" x2="459.30" y2="374.90" stroke="#000" stroke-width="1.2"/>
<line x1="454.60" y1="372.60" x2="464.00" y2="372.60" stroke="#000" stroke-width="1.3"/>
<rect x="449.50" y="374.40" width="19.60" height="62.80" fill="#6cb23f"/>
<line x1="488.50" y1="379.80" x2="488.50" y2="382.90" stroke="#000" stroke-width="1.2"/>
<line x1="483.80" y1="379.80" x2="493.20" y2="379.80" stroke="#000" stroke-width="1.3"/>
<rect x="478.70" y="382.40" width="19.60" height="54.80" fill="#b00a2c"/>
<path d="M381.20 375.00 V370.50 H410.00 V389.60" fill="none" stroke="#000" stroke-width="1.15"/>
<path d="M458.80 369.20 V366.70 H488.50 V376.60" fill="none" stroke="#000" stroke-width="1.15"/>
<text x="395.70" y="369.60" font-size="8.5" text-anchor="middle" font-weight="bold" fill="#1c1c1c">*</text>
<text x="473.80" y="365.20" font-size="8.4" text-anchor="middle" textLength="7.60" lengthAdjust="spacingAndGlyphs" font-style="italic" fill="#1c1c1c">ns</text>
<line x1="394.80" y1="437.20" x2="394.80" y2="440.00" stroke="#000" stroke-width="1.1"/>
<line x1="473.80" y1="437.20" x2="473.80" y2="440.00" stroke="#000" stroke-width="1.1"/>
<text x="394.80" y="452.10" font-size="8" text-anchor="middle" textLength="29.60" lengthAdjust="spacingAndGlyphs" fill="#1c1c1c" stroke="#1c1c1c" stroke-width="0.15">shCD86</text>
<text x="473.60" y="452.10" font-size="8" text-anchor="middle" textLength="25.40" lengthAdjust="spacingAndGlyphs" fill="#1c1c1c" stroke="#1c1c1c" stroke-width="0.15">shIRF4</text>
<rect x="362.70" y="336.70" width="11.30" height="5.10" fill="#6cb23f"/>
<text x="377.00" y="342.00" font-size="8" textLength="55.70" lengthAdjust="spacingAndGlyphs" fill="#1c1c1c" stroke="#1c1c1c" stroke-width="0.15">8226-pCDNA3.1</text>
<rect x="362.70" y="346.30" width="11.30" height="5.10" fill="#b00a2c"/>
<text x="377.00" y="351.80" font-size="8" textLength="54.70" lengthAdjust="spacingAndGlyphs" fill="#1c1c1c" stroke="#1c1c1c" stroke-width="0.15">8226-CD86FLm</text>
</svg>
</body></html>
